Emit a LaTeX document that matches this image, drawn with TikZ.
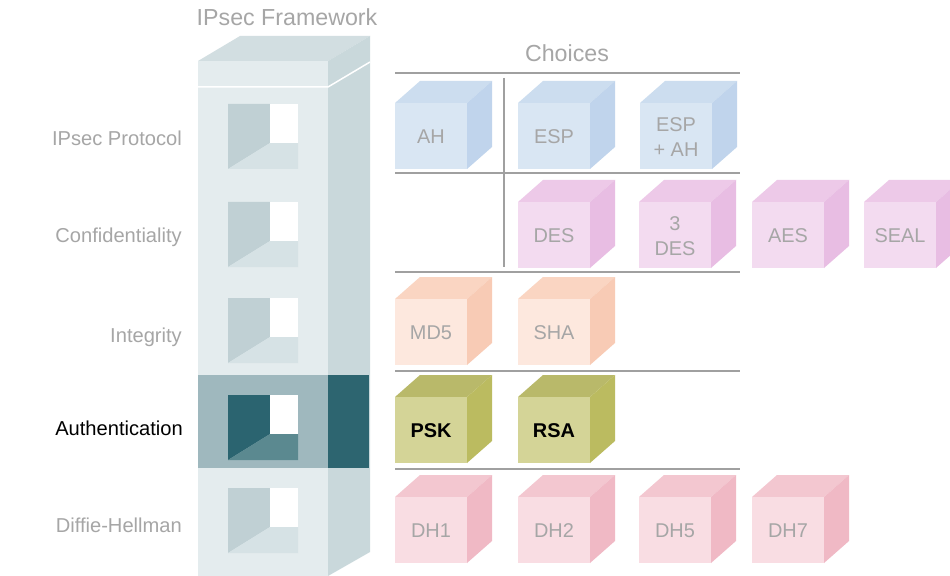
\documentclass[tikz,border=0pt]{standalone}
\usepackage{fontspec}
\setmainfont{Liberation Sans}
\definecolor{twfront}{HTML}{E4ECEE}
\definecolor{twside}{HTML}{C9D8DB}
\definecolor{twtop}{HTML}{D2DEE1}
\definecolor{wnwall}{HTML}{C0D0D4}
\definecolor{wnfloor}{HTML}{D6E2E5}
\definecolor{dkfront}{HTML}{9FB8BE}
\definecolor{dkside}{HTML}{2D6570}
\definecolor{dkwall}{HTML}{2B6470}
\definecolor{dkfloor}{HTML}{5B8990}
\definecolor{txtgray}{HTML}{A6A6A6}
\definecolor{rulegray}{HTML}{A0A0A0}
\definecolor{bluF}{HTML}{D9E6F3}\definecolor{bluT}{HTML}{CCDDEF}\definecolor{bluS}{HTML}{C0D4EC}
\definecolor{magF}{HTML}{F3DBF0}\definecolor{magT}{HTML}{EDC9E8}\definecolor{magS}{HTML}{E8BDE3}
\definecolor{orgF}{HTML}{FDE8DE}\definecolor{orgT}{HTML}{FAD5C2}\definecolor{orgS}{HTML}{F8CBB5}
\definecolor{oliF}{HTML}{D4D497}\definecolor{oliT}{HTML}{B9B96A}\definecolor{oliS}{HTML}{BBBB60}
\definecolor{dhF}{HTML}{F9DDE3}\definecolor{dhT}{HTML}{F3C7D0}\definecolor{dhS}{HTML}{F0B9C5}
\tikzset{
  cubetext/.style={font=\fontsize{20}{25}\selectfont, text=txtgray, align=center, inner sep=0pt},
  seltext/.style={font=\fontsize{20}{25}\selectfont\bfseries, text=black, align=center, inner sep=0pt},
  rowlabel/.style={font=\fontsize{20.2}{22}\selectfont, text=txtgray, anchor=east, inner sep=0pt},
  heading/.style={font=\fontsize{23.3}{26}\selectfont, text=txtgray, inner sep=0pt},
  rule/.style={draw=rulegray, line width=2bp}
}
% #1 x, #2 y (front top-left), #3 front, #4 top, #5 side, #6 name, #7 text style, #8 text
\newcommand{\ipcube}[8]{%
  \fill[#4] (#1,#2) -- ++(25,-22) -- ++(72,0) -- ++(-25,22) -- cycle;
  \fill[#5] (#1+72,#2) -- ++(25,-22) -- ++(0,66) -- ++(-25,22) -- cycle;
  \fill[#3] (#1,#2) rectangle ++(72,66);
  \node[#7] (#6) at (#1+36,#2+34) {#8};
}
% #1 y top, #2 wall colour, #3 floor colour, #4 name
\newcommand{\ipwindow}[4]{%
  \coordinate (#4) at (228,#1);
  \fill[#2] (228,#1) -- (270,#1) -- (270,#1+39) -- (228,#1+65) -- cycle;
  \fill[#3] (228,#1+65) -- (270,#1+39) -- (298,#1+39) -- (298,#1+65) -- cycle;
  \fill[white] (270,#1) rectangle (298,#1+39);
}
\begin{document}
\begin{tikzpicture}[x=1bp,y=-1bp]
\useasboundingbox (0,0) rectangle (950,576);
\fill[white] (0,0) rectangle (950,576);
% tower
\fill[twtop] (198,61) -- (240,36) -- (370,36) -- (328,61) -- cycle;
\fill[twside] (328,61) -- (370,36) -- (370,552) -- (328,576) -- cycle;
\fill[twfront] (198,61) rectangle (328,576);
\draw[white, line width=1.5bp] (198,87) -- (328,87) -- (370,62);
\fill[dkfront] (198,375) rectangle (328,468);
\fill[dkside] (328,375) rectangle (369,468);
\ipwindow{104}{wnwall}{wnfloor}{w1}
\ipwindow{202}{wnwall}{wnfloor}{w2}
\ipwindow{298}{wnwall}{wnfloor}{w3}
\ipwindow{395}{dkwall}{dkfloor}{w4}
\ipwindow{488}{wnwall}{wnfloor}{w5}
% headings
\node[heading] (fw) at (287,17) {IPsec Framework};
\node[heading] (ch) at (567,53) {Choices};
% row labels
\node[rowlabel] (l1) at (182,138) {IPsec Protocol};
\node[rowlabel] (l2) at (182,237) {Confidentiality};
\node[rowlabel] (l3) at (182,337) {Integrity};
\node[rowlabel, text=black] (l4) at (183,428) {Authentication};
\node[rowlabel] (l5) at (182,525) {Diffie-Hellman};
% rules
\draw[rule] (395,73) -- (740,73);
\draw[rule] (395,173) -- (740,173);
\draw[rule] (395,272) -- (740,272);
\draw[rule] (395,371) -- (740,371);
\draw[rule] (395,469) -- (740,469);
\draw[rule] (504,78) -- (504,267);
% cubes
\ipcube{395}{103}{bluF}{bluT}{bluS}{ah}{cubetext}{AH}
\ipcube{518}{103}{bluF}{bluT}{bluS}{esp}{cubetext}{ESP}
\ipcube{640}{103}{bluF}{bluT}{bluS}{espah}{cubetext}{ESP\\+ AH}
\ipcube{518}{202}{magF}{magT}{magS}{des}{cubetext}{DES}
\ipcube{639}{202}{magF}{magT}{magS}{tdes}{cubetext}{3\\DES}
\ipcube{752}{202}{magF}{magT}{magS}{aes}{cubetext}{AES}
\ipcube{864}{202}{magF}{magT}{magS}{seal}{cubetext}{SEAL}
\ipcube{395}{299}{orgF}{orgT}{orgS}{md5}{cubetext}{MD5}
\ipcube{518}{299}{orgF}{orgT}{orgS}{sha}{cubetext}{SHA}
\ipcube{395}{397}{oliF}{oliT}{oliS}{psk}{seltext}{PSK}
\ipcube{518}{397}{oliF}{oliT}{oliS}{rsa}{seltext}{RSA}
\ipcube{395}{497}{dhF}{dhT}{dhS}{dh1}{cubetext}{DH1}
\ipcube{518}{497}{dhF}{dhT}{dhS}{dh2}{cubetext}{DH2}
\ipcube{639}{497}{dhF}{dhT}{dhS}{dh5}{cubetext}{DH5}
\ipcube{752}{497}{dhF}{dhT}{dhS}{dh7}{cubetext}{DH7}
\end{tikzpicture}
\end{document}
